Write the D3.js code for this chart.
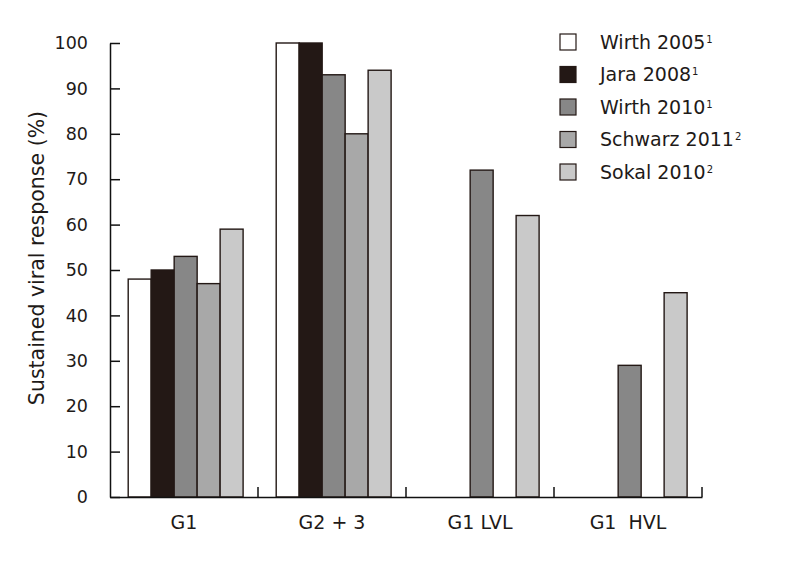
<!DOCTYPE html>
<html>
<head>
<meta charset="utf-8">
<script src="https://cdn.jsdelivr.net/npm/d3@7"></script>
<style>
  body { margin: 0; background: #fff; }
  svg text { font-family: "DejaVu Sans", sans-serif; fill: #1e1a18; }
</style>
</head>
<body>
<div id="chart"></div>
<script>

/////////////////////
// Data
/////////////////////

var groups = ["G1", "G2 + 3", "G1 LVL", "G1  HVL"];
var series = ["Wirth 2005", "Jara 2008", "Wirth 2010", "Schwarz 2011", "Sokal 2010"];
var refs = ["1", "1", "1", "2", "2"];
var fills = ["#ffffff", "#231815", "#878787", "#a8a8a8", "#c9c9c9"];

var wirth2005 = [48, 100, null, null];
var jara2008 = [50, 100, null, null];
var wirth2010 = [53, 93, 72, 29];
var schwarz2011 = [47, 80, null, null];
var sokal2010 = [59, 94, 62, 45];

var yTicks = [0, 10, 20, 30, 40, 50, 60, 70, 80, 90, 100];

var values = [wirth2005, jara2008, wirth2010, schwarz2011, sokal2010];

/////////////////////
// Scales
/////////////////////

var width = 787, height = 561;

var svg = d3.select("#chart").append("svg")
    .attr("width", width)
    .attr("height", height);

var x0 = d3.scaleBand()
    .domain(groups)
    .range([110, 702]);

var x1 = d3.scaleBand()
    .domain(series)
    .range([0, x0.bandwidth()])
    .paddingInner(0)
    .paddingOuter(0.72)
    .align(0.55);

var y = d3.scaleLinear()
    .domain([0, 100])
    .range([497, 43]);

var color = d3.scaleOrdinal()
    .domain(series)
    .range(fills);

// flatten into bar records, skip missing
var bars = [];
series.forEach(function(s, i) {
    values[i].forEach(function(v, j) {
        if (v != null) bars.push({series: s, group: groups[j], value: v});
    });
});

/////////////////////
// Bars
/////////////////////

svg.append("g").selectAll("rect")
    .data(bars)
  .enter().append("rect")
    .attr("x", function(d) { return x0(d.group) + x1(d.series); })
    .attr("y", function(d) { return y(d.value); })
    .attr("width", x1.bandwidth())
    .attr("height", function(d) { return y(0) - y(d.value); })
    .style("fill", function(d) { return color(d.series); })
    .style("stroke", "#231815")
    .style("stroke-width", 1.4);

/////////////////////
// Axes
/////////////////////

var yAxis = svg.append("g")
    .attr("transform", "translate(110,0)")
    .call(d3.axisLeft(y)
        .tickValues(yTicks)
        .tickSizeInner(-10)
        .tickSizeOuter(0)
        .tickPadding(22));
yAxis.selectAll("text").style("font-size", "17.5px");
yAxis.selectAll("line, path").style("stroke", "#111").style("stroke-width", 1.5);

var xAxis = svg.append("g")
    .attr("transform", "translate(0," + y(0) + ")")
    .call(d3.axisBottom(x0).tickSize(0).tickPadding(19));
xAxis.selectAll("text").style("font-size", "19px").style("white-space", "pre");
xAxis.select(".domain").style("stroke", "#111").style("stroke-width", 1.5);

// group separators pointing up
svg.append("g").selectAll("line")
    .data(groups)
  .enter().append("line")
    .attr("x1", function(d) { return x0(d) + x0.bandwidth(); })
    .attr("x2", function(d) { return x0(d) + x0.bandwidth(); })
    .attr("y1", y(0))
    .attr("y2", y(0) - 10)
    .style("stroke", "#111")
    .style("stroke-width", 1.5);

// axis title
svg.append("text")
    .attr("transform", "translate(44,258) rotate(-90)")
    .attr("text-anchor", "middle")
    .style("font-size", "20.5px")
    .text("Sustained viral response (%)");

/////////////////////
// Legend
/////////////////////

var legend = svg.append("g").selectAll("g")
    .data(series)
  .enter().append("g")
    .attr("transform", function(d, i) { return "translate(560," + (42 + i * 32.5) + ")"; });

legend.append("rect")
    .attr("x", 0)
    .attr("y", -8)
    .attr("width", 16)
    .attr("height", 16)
    .style("fill", color)
    .style("stroke", "#231815")
    .style("stroke-width", 1.2);

var label = legend.append("text")
    .attr("x", 40)
    .attr("y", 0)
    .attr("dy", "0.36em")
    .style("font-size", "19px");
label.append("tspan")
    .text(function(d) { return d; });
label.append("tspan")
    .attr("dx", 1)
    .attr("dy", "-0.6em")
    .style("font-size", "10px")
    .text(function(d, i) { return refs[i]; });

</script>
</body>
</html>
